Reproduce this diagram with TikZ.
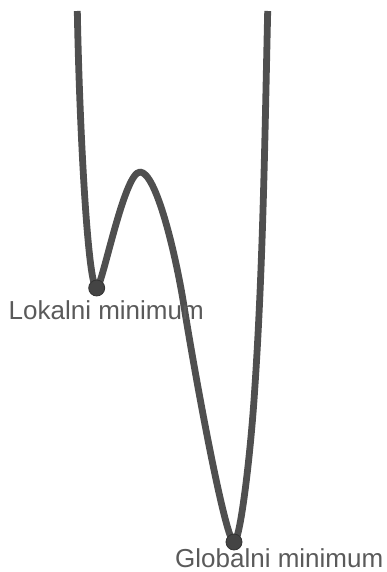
\documentclass[tikz,border=0pt]{standalone}
\usepackage{fontspec}
\setmainfont{Liberation Sans}
\definecolor{curvegray}{HTML}{4F4F4F}
\definecolor{dotgray}{HTML}{444444}
\definecolor{textgray}{HTML}{5A5A5A}
\begin{document}
\begin{tikzpicture}[x=1pt,y=-1pt,
  curve/.style={draw=curvegray,line width=6.8pt,line join=round},
  pointdot/.style={circle,fill=dotgray,draw=black!80,line width=0.8pt,minimum size=16pt,inner sep=0pt},
  label/.style={text=textgray,font=\fontsize{26}{30}\selectfont,anchor=base west,inner sep=0pt}]
\useasboundingbox (0,0) rectangle (386,572);
\coordinate (top1) at (77.3,11);
\coordinate (lm) at (96.7,288);
\coordinate (mx) at (140,172);
\coordinate (infl) at (183,300);
\coordinate (gm) at (234,542);
\coordinate (rarm) at (254,400);
\coordinate (top2) at (267.7,11);
\draw[curve] (top1) .. controls (79.5,130) and (88,288) .. (lm)
  .. controls (102,288) and (124,172) .. (mx)
  .. controls (156,172) and (175,252) .. (infl)
  .. controls (197.4,390) and (226,542) .. (gm)
  .. controls (240,542) and (249.8,460) .. (rarm)
  .. controls (263.1,270) and (264.7,141) .. (top2);
\node[pointdot] (lmin) at (lm) {};
\node[pointdot] (gmin) at (gm) {};
\node[label] (llab) at (8.5,319.5) {Lokalni minimum};
\node[label] (glab) at (175,567) {Globalni minimum};
\end{tikzpicture}
\end{document}
